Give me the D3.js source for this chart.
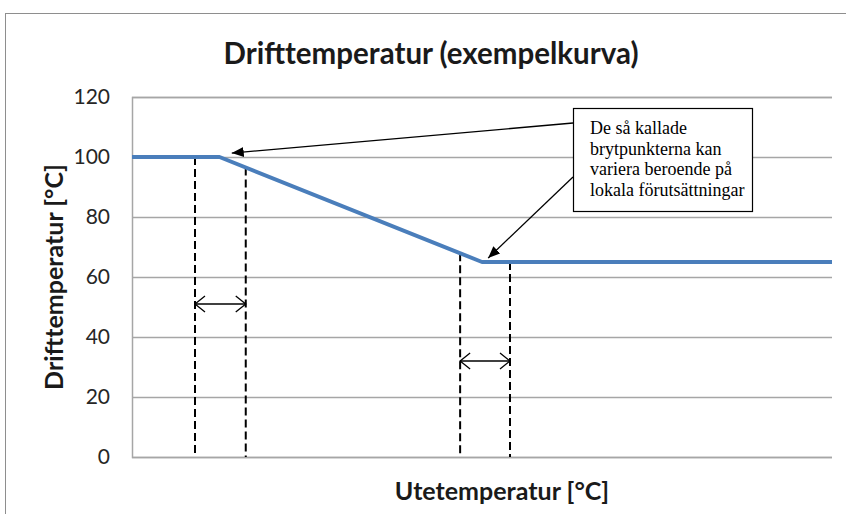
<!DOCTYPE html>
<html>
<head>
<meta charset="utf-8">
<script src="https://cdn.jsdelivr.net/npm/d3@7"></script>
<style>
  html, body { margin: 0; padding: 0; background: #fff; }
  svg { display: block; }
</style>
</head>
<body>
<div id="chart"></div>
<script>
// ---- data ----
const chartTitle = "Drifttemperatur (exempelkurva)";
const xTitle = "Utetemperatur [°C]";
const yTitle = "Drifttemperatur [°C]";
const outdoorTemp = [-20, -15, 0, 20];          // Utetemperatur [°C]
const supplyTemp  = [100, 100, 65, 65];         // Drifttemperatur [°C]
const xDomain = [-20, 20];
const yTicks = [0, 20, 40, 60, 80, 100, 120];
const rangeLeft  = [-16.4, -1.25];              // dashed range markers (left edge)
const rangeRight = [-13.5, 1.6];                // dashed range markers (right edge)
const rangeArrowLevel = [51, 32];               // height of the double arrows
const calloutLines = ["De så kallade", "brytpunkterna kan", "variera beroende på", "lokala förutsättningar"];
const calloutTargetX = [-14.3, 0.35];
const calloutTargetY = [101.3, 66.3];

// ---- layout ----
const W = 846, H = 514;
const plot = { left: 132, right: 832, top: 97, bottom: 457 };
const box = { x: 573, y: 108, w: 179, h: 103 };
const calloutStartY = [123, 177];
const sans = "Lato, 'Open Sans', sans-serif";

const svg = d3.select("#chart").append("svg").attr("width", W).attr("height", H);

const defs = svg.append("defs");
defs.append("marker").attr("id", "solidHead")
  .attr("viewBox", "0 0 12 10").attr("refX", 12).attr("refY", 5)
  .attr("markerWidth", 12).attr("markerHeight", 10).attr("markerUnits", "userSpaceOnUse")
  .attr("orient", "auto")
  .append("path").attr("d", "M0,0 L12,5 L0,10 Z").attr("fill", "#000");
defs.append("marker").attr("id", "openHead")
  .attr("viewBox", "0 0 12 18").attr("refX", 11).attr("refY", 9)
  .attr("markerWidth", 12).attr("markerHeight", 18).attr("markerUnits", "userSpaceOnUse")
  .attr("orient", "auto-start-reverse")
  .append("path").attr("d", "M1,1 L11,9 L1,17").attr("fill", "none")
  .attr("stroke", "#000").attr("stroke-width", 1.3);

// outer chart border
svg.append("rect").attr("x", 5.5).attr("y", 13.5).attr("width", 1000).attr("height", 1000)
  .attr("fill", "none").attr("stroke", "#8e8e8e").attr("stroke-width", 1);

const x = d3.scaleLinear().domain(xDomain).range([plot.left, plot.right]);
const y = d3.scaleLinear().domain([0, 120]).range([plot.bottom, plot.top]);

// gridlines + y axis
const yAxis = d3.axisLeft(y).tickValues(yTicks).tickSize(-(plot.right - plot.left)).tickPadding(22);
const gy = svg.append("g").attr("transform", `translate(${plot.left},0)`).call(yAxis);
gy.select(".domain").attr("stroke", "#a6a6a6").attr("stroke-width", 1.5);
gy.selectAll(".tick line").attr("stroke", "#a6a6a6").attr("stroke-width", 1.5);
gy.selectAll(".tick text").attr("font-family", sans).attr("font-size", 21).attr("fill", "#262626");

// dashed range markers
const dash = svg.append("g");
const lineVal = d3.scaleLinear().domain(outdoorTemp).range(supplyTemp);
rangeLeft.forEach((a, i) => {
  [a, rangeRight[i]].forEach(v => {
    dash.append("line")
      .attr("x1", x(v)).attr("x2", x(v))
      .attr("y1", y(lineVal(v))).attr("y2", y(0))
      .attr("stroke", "#000").attr("stroke-width", 2).attr("stroke-dasharray", "8,4");
  });
  dash.append("line")
    .attr("x1", x(a)).attr("x2", x(rangeRight[i]))
    .attr("y1", y(rangeArrowLevel[i])).attr("y2", y(rangeArrowLevel[i]))
    .attr("stroke", "#000").attr("stroke-width", 1.3)
    .attr("marker-start", "url(#openHead)").attr("marker-end", "url(#openHead)");
});

// main line
const pts = outdoorTemp.map((t, i) => [t, supplyTemp[i]]);
svg.append("path").datum(pts)
  .attr("d", d3.line().x(d => x(d[0])).y(d => y(d[1])))
  .attr("fill", "none").attr("stroke", "#4a7ebb").attr("stroke-width", 4)
  .attr("stroke-linejoin", "round");

// callout box
svg.append("rect").attr("x", box.x + 0.5).attr("y", box.y + 0.5).attr("width", box.w).attr("height", box.h)
  .attr("fill", "#fff").attr("stroke", "#000").attr("stroke-width", 1.2);
svg.append("text").attr("x", box.x + 17).attr("y", box.y + 26)
  .attr("font-family", "'Liberation Serif', 'Times New Roman', serif").attr("font-size", 18).attr("fill", "#000")
  .selectAll("tspan").data(calloutLines).join("tspan")
  .attr("x", box.x + 17).attr("dy", (d, i) => i === 0 ? 0 : 20.7).text(d => d);

// callout arrows
calloutTargetX.forEach((tx, i) => {
  svg.append("line")
    .attr("x1", box.x).attr("y1", calloutStartY[i])
    .attr("x2", x(tx)).attr("y2", y(calloutTargetY[i]))
    .attr("stroke", "#000").attr("stroke-width", 1.3)
    .attr("marker-end", "url(#solidHead)");
});

// titles
svg.append("text").attr("x", 431).attr("y", 64).attr("text-anchor", "middle")
  .attr("font-family", sans).attr("font-weight", "bold").attr("font-size", 29.5).attr("fill", "#1a1a1a")
  .text(chartTitle);
svg.append("text").attr("x", 502).attr("y", 500).attr("text-anchor", "middle")
  .attr("font-family", sans).attr("font-weight", "bold").attr("font-size", 25).attr("fill", "#1a1a1a")
  .text(xTitle);
svg.append("text").attr("transform", "translate(63,277) rotate(-90)").attr("text-anchor", "middle")
  .attr("font-family", sans).attr("font-weight", "bold").attr("font-size", 25).attr("fill", "#1a1a1a")
  .text(yTitle);
</script>
</body>
</html>
